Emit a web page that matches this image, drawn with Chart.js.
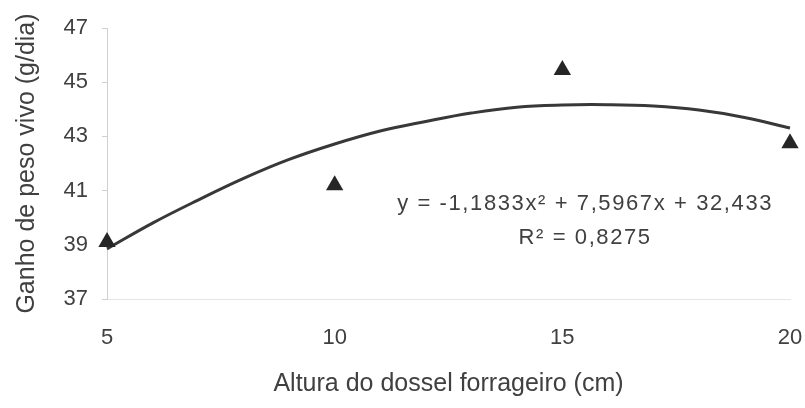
<!DOCTYPE html>
<html>
<head>
<meta charset="utf-8">
<script src="https://cdn.jsdelivr.net/npm/chart.js@4/dist/chart.umd.min.js"></script>
<style>
  html, body { margin: 0; padding: 0; background: #ffffff; }
  #wrap { width: 805px; height: 408px; }
</style>
</head>
<body>
<div id="wrap"><canvas id="c" width="805" height="408"></canvas></div>
<script>
// Altura do dossel (cm) e ganho observado (g/dia)
const alturas = [5, 10, 15, 20];
const ganhoObservado = [39.1, 41.2, 45.45, 42.75];

// Curva de tendência quadrática (valores lidos ao longo da curva)
const curvaAltura = [5, 6, 7, 8, 9, 10, 11, 12, 13, 14, 15, 16, 17, 18, 19, 20];
const curvaGanho = [38.85, 39.8, 40.65, 41.45, 42.15, 42.72, 43.2, 43.55, 43.86, 44.08, 44.16, 44.17, 44.12, 43.97, 43.7, 43.31];

const yTicks = [37, 39, 41, 43, 45, 47];
const xTicks = [5, 10, 15, 20];

const equacao = ['y = -1,1833x\u00B2 + 7,5967x + 32,433', 'R\u00B2 = 0,8275'];

const textColor = '#404040';
const fontFamily = '"Liberation Sans", Arial, sans-serif';

const equationPlugin = {
  id: 'equationLabel',
  afterDatasetsDraw(chart) {
    const { ctx, scales: { x, y } } = chart;
    ctx.save();
    ctx.fillStyle = textColor;
    ctx.font = '22px ' + fontFamily;
    ctx.letterSpacing = '1.6px';
    ctx.textAlign = 'center';
    ctx.textBaseline = 'alphabetic';
    const cx = x.getPixelForValue(15.5);
    ctx.fillText(equacao[0], cx, y.getPixelForValue(40.3));
    ctx.fillText(equacao[1], cx, y.getPixelForValue(39.03));
    ctx.restore();
  }
};

new Chart(document.getElementById('c'), {
  type: 'scatter',
  data: {
    datasets: [
      {
        type: 'line',
        data: curvaAltura.map((a, i) => ({ x: a, y: curvaGanho[i] })),
        borderColor: '#383838',
        borderWidth: 3,
        pointRadius: 0,
        tension: 0.4,
        fill: false,
        clip: false,
        order: 2
      },
      {
        data: alturas.map((a, i) => ({ x: a, y: ganhoObservado[i] })),
        pointStyle: 'triangle',
        pointRadius: 10,
        backgroundColor: '#262626',
        borderColor: '#262626',
        borderWidth: 0,
        clip: false,
        order: 1
      }
    ]
  },
  options: {
    responsive: false,
    animation: false,
    devicePixelRatio: 1,
    layout: { padding: { top: 28, right: 15, left: 0, bottom: 0 } },
    plugins: { legend: { display: false }, tooltip: { enabled: false } },
    scales: {
      x: {
        type: 'linear',
        min: 5,
        max: 20,
        afterBuildTicks(scale) { scale.ticks = xTicks.map(v => ({ value: v })); },
        afterFit(scale) {
          scale.height = 109;
          scale.paddingLeft = 0;
          scale.paddingRight = 0;
        },
        grid: { display: false, drawTicks: false },
        border: { display: true, color: '#e6e6e6', width: 1 },
        ticks: {
          color: textColor,
          font: { family: fontFamily, size: 22 },
          padding: 26,
          maxRotation: 0
        },
        title: {
          display: true,
          text: 'Altura do dossel forrageiro (cm)',
          color: textColor,
          font: { family: fontFamily, size: 25 },
          padding: { top: 0, bottom: 9 }
        }
      },
      y: {
        min: 37,
        max: 47,
        afterBuildTicks(scale) { scale.ticks = yTicks.map(v => ({ value: v })); },
        afterFit(scale) { scale.width = 107; },
        grid: { drawOnChartArea: false, drawTicks: true, tickLength: 5, color: '#d0d0d0' },
        border: { display: true, color: '#d0d0d0', width: 1 },
        ticks: {
          color: textColor,
          font: { family: fontFamily, size: 22 },
          padding: 14
        },
        title: {
          display: true,
          text: 'Ganho de peso vivo (g/dia)',
          color: textColor,
          font: { family: fontFamily, size: 25 },
          padding: { top: 12, bottom: 0 }
        }
      }
    }
  },
  plugins: [equationPlugin]
});
</script>
</body>
</html>
